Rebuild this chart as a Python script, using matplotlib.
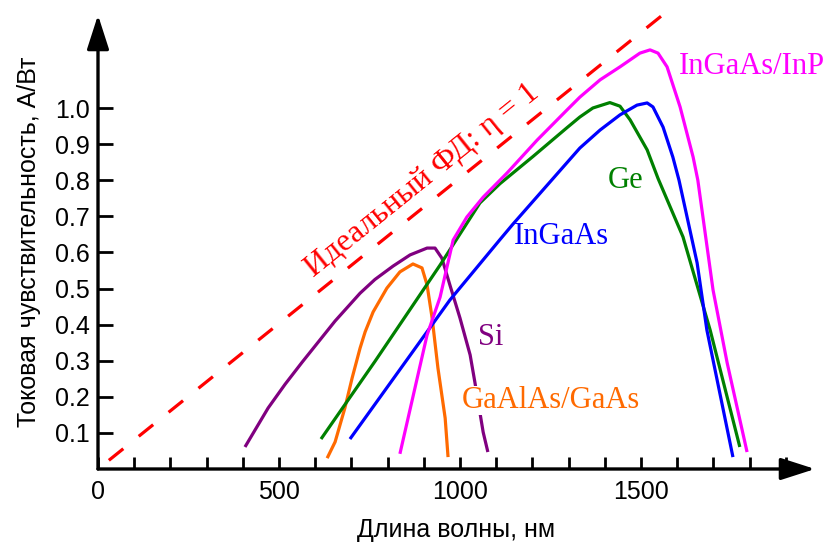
import matplotlib
matplotlib.use('Agg')
import matplotlib.pyplot as plt

# данные (длина волны, нм / чувствительность, А/Вт)
si_nm = [406, 470, 517, 564, 655, 724, 765, 815, 862, 909, 931, 950, 972, 1000, 1028, 1041, 1064, 1077]
si_r = [0.061, 0.169, 0.235, 0.296, 0.410, 0.487, 0.525, 0.562, 0.593, 0.612, 0.612, 0.584, 0.510, 0.418, 0.316, 0.241, 0.102, 0.047]

gaas_nm = [633, 655, 682, 702, 724, 738, 760, 798, 834, 870, 895, 909, 923, 939, 959, 967]
gaas_r = [0.030, 0.075, 0.169, 0.252, 0.335, 0.380, 0.435, 0.501, 0.546, 0.568, 0.557, 0.510, 0.418, 0.280, 0.141, 0.033]

ge_nm = [616, 765, 945, 1055, 1110, 1202, 1295, 1331, 1367, 1414, 1442, 1470, 1517, 1547, 1616, 1691, 1773]
ge_r = [0.083, 0.298, 0.565, 0.737, 0.790, 0.866, 0.945, 0.975, 1.000, 1.015, 1.005, 0.967, 0.884, 0.805, 0.643, 0.385, 0.061]

ingaas_nm = [696, 724, 972, 1110, 1146, 1295, 1331, 1387, 1442, 1489, 1517, 1533, 1561, 1588, 1605, 1655, 1682, 1754]
ingaas_r = [0.083, 0.122, 0.468, 0.635, 0.678, 0.848, 0.889, 0.939, 0.981, 1.008, 1.014, 1.003, 0.947, 0.864, 0.800, 0.571, 0.385, 0.033]

inp_nm = [834, 909, 945, 981, 1019, 1064, 1130, 1213, 1295, 1331, 1387, 1442, 1497, 1525, 1547, 1572, 1608, 1644, 1657, 1699, 1738, 1793]
inp_r = [0.042, 0.371, 0.476, 0.634, 0.698, 0.753, 0.820, 0.911, 0.994, 1.030, 1.078, 1.114, 1.152, 1.161, 1.152, 1.114, 1.003, 0.864, 0.800, 0.496, 0.294, 0.047]

ideal_nm = [30, 1570]
ideal_r = [0.024, 1.266]

x_ticks = list(range(0, 2000, 100))
y_ticks = [0.1, 0.2, 0.3, 0.4, 0.5, 0.6, 0.7, 0.8, 0.9, 1.0]

W, H = 831, 546
fig = plt.figure(figsize=(W / 100, H / 100), dpi=100)
# начало координат (98, 469) пикселей, стрелки до (815, 15)
ax = fig.add_axes([98 / W, (H - 469) / H, (815 - 98) / W, (469 - 15) / H])
ax.set_xlim(0, (815 - 98) / 0.362)
ax.set_ylim(0, (469 - 15) / 361)

sans = ['Liberation Sans', 'DejaVu Sans']
serif = ['Liberation Serif', 'DejaVu Serif']

lw = 2.3
ax.plot(ideal_nm, ideal_r, color='#ff0000', lw=lw, dashes=(5.8, 6.2))
curves = [(si_nm, si_r, '#800080'), (gaas_nm, gaas_r, '#ff6a00'), (ge_nm, ge_r, '#008000'),
          (ingaas_nm, ingaas_r, '#0000ff'), (inp_nm, inp_r, '#ff00ff')]
for xs, ys, c in curves:
    ax.plot(xs, ys, color=c, lw=lw, solid_joinstyle='round', solid_capstyle='butt')

fs = 22
ax.text(897, 0.80, 'Идеальный ФД: η = 1', color='#ff0000', fontsize=23, family=serif,
        rotation=38.8, rotation_mode='anchor', ha='center', va='center')
ax.text(1807, 1.114, 'InGaAs/InP', color='#ff00ff', fontsize=fs, family=serif, ha='center', va='center')
ax.text(1456, 0.80, 'Ge', color='#008000', fontsize=fs, family=serif, ha='center', va='center')
ax.text(1279, 0.643, 'InGaAs', color='#0000ff', fontsize=fs, family=serif, ha='center', va='center')
ax.text(1086, 0.363, 'Si', color='#800080', fontsize=fs, family=serif, ha='center', va='center')
ax.text(1251, 0.191, 'GaAlAs/GaAs', color='#ff6a00', fontsize=fs, family=serif, ha='center', va='center',
        bbox=dict(facecolor='white', edgecolor='none', pad=0))

# оси со стрелками
for s in ax.spines.values():
    s.set_visible(False)
arrow = dict(arrowstyle='-|>,head_length=1.4,head_width=0.45', color='black', lw=2.4,
             shrinkA=0, shrinkB=0, mutation_scale=15)
ax.annotate('', xy=(1, 0), xytext=(0, 0), xycoords='axes fraction', arrowprops=arrow)
ax.annotate('', xy=(0, 1), xytext=(0, 0), xycoords='axes fraction', arrowprops=arrow)

ax.set_xticks(x_ticks)
ax.set_xticklabels([str(t) if t % 500 == 0 else '' for t in x_ticks])
ax.set_yticks(y_ticks)
ax.set_yticklabels([f'{t:.1f}' for t in y_ticks])
ax.tick_params(axis='x', direction='in', length=9, width=2, pad=8, labelsize=18)
ax.tick_params(axis='y', direction='in', length=11, width=2, pad=6, labelsize=18)
for lab in ax.get_xticklabels() + ax.get_yticklabels():
    lab.set_family(sans)

ax.set_xlabel('Длина волны, нм', fontsize=18, family=sans, labelpad=10)
ax.set_ylabel('Токовая чувствительность, А/Вт', fontsize=18, family=sans, labelpad=10)

fig.savefig('out.png', dpi=100)
